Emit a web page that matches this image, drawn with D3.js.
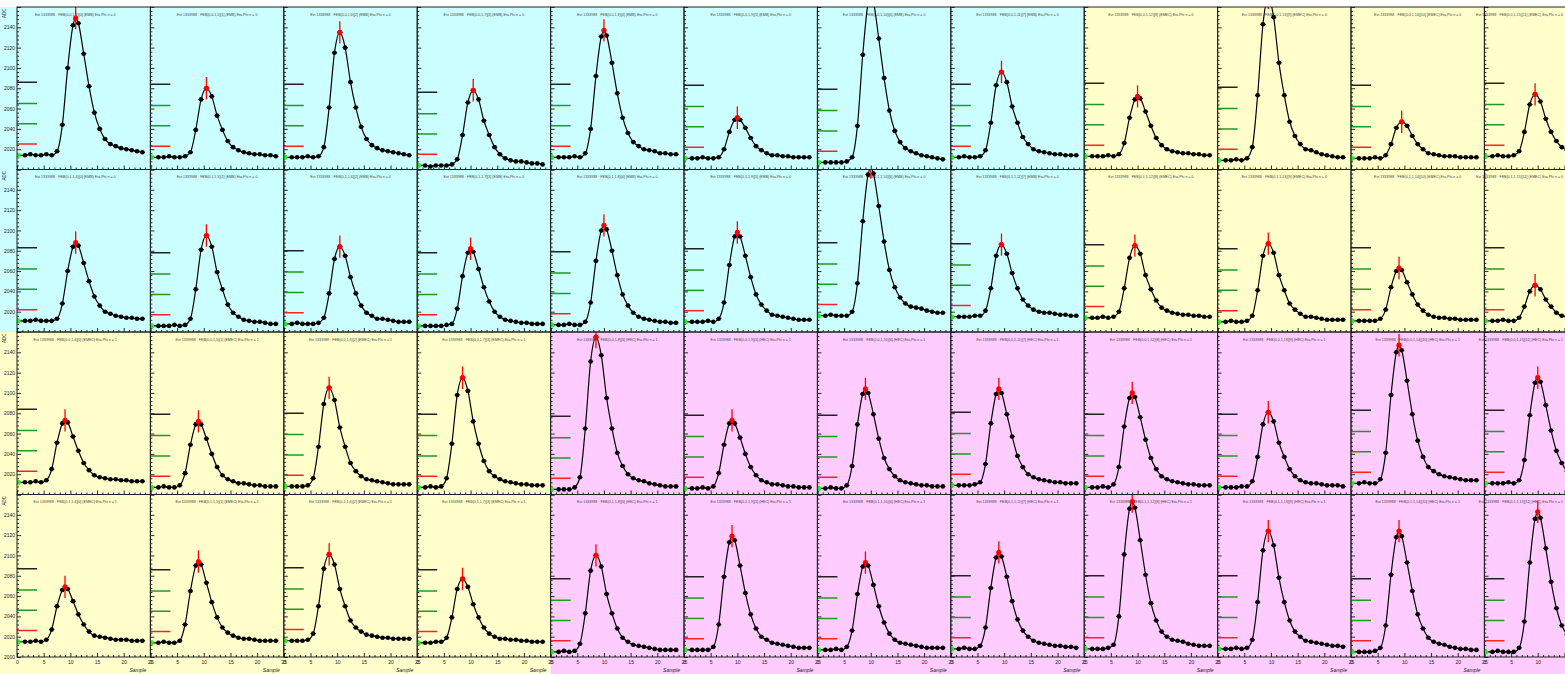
<!DOCTYPE html>
<html>
<head>
<meta charset="utf-8">
<script src="https://cdn.jsdelivr.net/npm/d3@7"></script>
<style>
  body { margin: 0; background: #fff; overflow: hidden; }
  text { font-family: "Liberation Sans", Arial, sans-serif; }
</style>
</head>
<body>
<svg id="canvas" width="1565" height="674"></svg>
<script>
// sample positions (bin centres) for the 23 ADC samples of each pulse
const sampleX = [1.5,2.5,3.5,4.5,5.5,6.5,7.5,8.5,9.5,10.5,11.5,12.5,13.5,14.5,15.5,16.5,17.5,18.5,19.5,20.5,21.5,22.5,23.5];

// pedestal per panel (ADC), row by row
const pedestals = [
  2014,2012,2012,2004,2012,2011,2007,2012,2013,2009,2011,2013,
  2011,2006,2008,2006,2007,2010,2016,2015,2014,2010,2011,2011,
  2012,2007,2008,2007,2005,2006,2006,2009,2007,2007,2011,2011,
  2015,2014,2016,2014,2005,2007,2007,2008,2008,2008,2005,2005
];
// fitted peak amplitude above pedestal
const amplitudes = [
  135,68,123,74,125,40,165,84,59,160,36,61,
  77,89,76,76,98,88,146,71,71,77,52,35,
  61,65,97,108,150,67,98,95,93,74,136,104,
  54,80,85,63,95,112,86,95,145,116,119,138
];
// fitted peak time (samples)
const peakTimes = [
  11,10.5,10.5,10.5,10,10,10,9.5,10,9.5,9.5,9.5,
  11,10.5,10.5,10,10,10,10,9.5,9.5,9.5,9,9.5,
  9,9,8.5,8.5,8.5,9,9,9,9,9.5,9,10,
  9,9,8.5,8.5,8.5,9,9,9,9,9.5,9,10
];
// pulse samples above pedestal
const pulsesRow1 = [
  [0,1,0,0,1,0,4,30,86,128,130,100,68,42,26,16,11,9,7,6,5,4,3],
  [0,0,1,0,0,1,5,27,57,68,60,41,27,16,10,7,5,4,3,3,2,2,1],
  [0,0,0,1,0,1,10,49,103,123,108,74,49,30,18,12,9,7,6,5,4,3,2],
  [0,-1,0,0,0,1,6,30,62,74,65,44,30,18,11,7,5,4,4,3,2,2,1],
  [0,0,0,1,0,4,28,80,119,120,93,63,39,24,15,11,8,7,6,4,4,3,3],
  [0,0,1,0,0,1,9,26,38,38,30,20,12,8,5,3,3,2,2,1,1,1,1],
  [0,0,0,0,1,5,36,106,157,158,122,83,51,31,20,14,11,9,7,6,5,4,3],
  [0,1,0,0,1,7,34,71,84,74,50,34,20,13,8,6,5,4,3,3,2,2,2],
  [0,0,0,1,0,2,13,38,56,57,44,30,18,11,7,5,4,3,3,2,2,1,1],
  [0,0,1,0,2,13,64,134,160,141,96,64,38,24,16,11,10,8,6,5,4,3,3],
  [0,0,0,1,0,3,14,30,36,32,22,14,9,5,4,3,2,2,2,1,1,1,1],
  [0,1,0,0,1,5,24,51,61,54,37,24,15,9,6,4,4,3,2,2,2,1,1]
];
const pulsesRow2 = [
  [0,0,1,0,0,0,2,17,49,73,74,57,39,24,15,9,7,5,4,3,3,2,2],
  [0,0,0,1,0,1,7,36,75,89,78,53,36,21,13,9,6,5,4,4,3,2,2],
  [0,1,0,0,0,1,6,30,64,76,67,46,30,18,11,8,5,5,4,3,2,2,2],
  [0,0,0,0,1,2,17,49,72,73,56,38,24,14,9,6,5,4,3,3,2,2,2],
  [0,0,1,0,0,3,22,63,93,94,73,49,30,19,12,8,6,5,4,3,3,2,2],
  [0,0,0,1,0,3,19,56,84,84,65,44,27,17,11,7,6,5,4,3,2,2,2],
  [0,1,0,0,0,4,32,93,139,140,108,73,45,28,18,12,9,8,7,5,4,3,3],
  [0,0,0,1,1,6,28,60,71,62,43,28,17,11,7,5,4,4,3,2,2,1,1],
  [0,0,1,0,1,6,29,59,71,63,42,28,17,10,7,5,4,3,3,2,2,1,1],
  [0,1,0,0,1,6,31,65,77,68,46,31,18,12,8,5,5,4,3,2,2,2,2],
  [0,0,0,0,2,11,33,49,50,38,26,16,10,6,4,3,3,2,2,1,1,1,1],
  [0,0,1,0,0,3,14,29,35,31,21,14,8,5,4,2,2,2,1,1,1,1,1]
];
const pulsesRow3 = [
  [0,0,1,0,2,13,39,58,59,45,31,19,12,7,5,4,3,3,2,2,1,1,1],
  [0,1,0,0,2,14,42,62,62,48,33,20,12,8,6,4,4,3,2,2,1,1,1],
  [0,0,0,1,8,39,81,97,85,58,39,23,15,10,7,6,5,4,3,2,2,2,2],
  [0,1,0,1,9,43,91,108,95,65,43,26,16,11,8,6,5,4,3,3,2,2,2],
  [0,0,0,2,12,60,126,150,132,90,60,36,23,15,11,9,8,6,5,4,3,3,3],
  [0,0,1,0,2,15,43,64,64,50,34,21,13,8,6,4,4,3,2,2,1,1,1],
  [0,1,0,0,3,22,63,93,94,73,49,30,19,12,8,6,5,4,3,3,2,2,2],
  [0,0,0,1,3,21,61,90,91,70,48,29,18,11,8,6,5,4,3,3,2,2,2],
  [0,0,1,0,3,20,60,88,89,69,47,29,18,11,8,6,5,4,3,3,2,2,2],
  [0,0,0,1,1,6,30,62,74,65,44,30,18,11,7,5,4,4,3,2,2,2,1],
  [0,1,0,0,4,30,87,129,131,101,68,42,26,16,12,9,7,6,5,4,3,3,3],
  [0,0,0,1,0,3,23,67,99,100,77,52,32,20,12,9,7,6,5,4,3,2,2]
];
const pulsesRow4 = [
  [0,0,1,0,2,12,35,51,52,40,27,17,10,6,5,4,3,2,2,2,1,1,1],
  [0,1,0,0,2,18,51,76,77,59,40,25,15,10,7,5,4,4,3,2,2,2,2],
  [0,0,0,1,7,34,71,85,75,51,34,20,13,9,6,5,4,3,3,2,2,2,2],
  [0,0,1,1,5,25,53,63,55,38,25,15,9,6,4,4,3,3,2,2,1,1,1],
  [0,1,0,1,8,38,80,95,84,57,38,23,14,10,7,6,5,4,3,2,2,2,2],
  [0,0,0,0,3,25,72,106,108,83,56,35,21,13,10,7,6,5,4,3,2,2,2],
  [0,0,1,0,3,19,55,82,83,64,43,27,16,10,7,6,5,4,3,2,2,2,2],
  [0,1,0,0,3,21,60,90,91,71,47,29,18,12,8,6,5,4,3,3,2,2,1],
  [0,0,0,1,4,32,93,138,139,107,73,45,28,17,12,9,8,7,5,4,3,3,3],
  [0,0,1,0,1,9,46,97,116,102,70,46,28,17,12,8,7,6,5,4,3,3,2],
  [0,0,0,1,4,26,76,113,114,88,60,37,23,14,10,8,7,5,4,3,3,2,2],
  [0,1,0,0,0,4,30,88,131,132,102,69,43,26,17,12,9,8,6,5,4,3,3]
];
const pulses = pulsesRow1.concat(pulsesRow2, pulsesRow3, pulsesRow4);

// pad colour per panel: c = cyan, y = yellow, m = magenta
const padKinds = [
  "cccccccc" + "yyyy",
  "cccccccc" + "yyyy",
  "yyyy" + "mmmmmmmm",
  "yyyy" + "mmmmmmmm"
].join("").split("");
const padFill = { c: "#ccffff", y: "#ffffcc", m: "#ffccff" };
const layerNames = { c: "EMB", y: "EMEC", m: "HEC" };

// threshold marks above pedestal (ADC) and their colours
const thresholds = [11, 31, 51, 72];
const thresholdColors = ["#ff2222", "#1f9a1f", "#1f9a1f", "#222222"];
const peakError = 11;

const yTickLabels = [2020, 2040, 2060, 2080, 2100, 2120, 2140];
const xTickLabels = [0, 5, 10, 15, 20, 25];

// layout of the divided canvas
const svg = d3.select("#canvas");
const PAGE_W = 1565, PAGE_H = 674;
const X0 = 17, Y0 = 7, W = 133.4, H = 162.5, NC = 12, NR = 4;

const frames = pedestals.map((p, i) => {
  const r = Math.floor(i / NC), c = i % NC;
  const fx = X0 + c * W, fy = Y0 + r * H;
  return {
    i, r, c, fx, fy,
    padX: c === 0 ? 0 : fx,
    padW: c === 0 ? fx + W : W,
    padH: r === NR - 1 ? PAGE_H - fy : H,
    kind: padKinds[i]
  };
});

// pad backgrounds
svg.selectAll("rect.pad").data(frames).enter().append("rect")
  .attr("class", "pad")
  .attr("x", d => d.padX).attr("y", d => d.fy)
  .attr("width", d => d.padW + 0.5).attr("height", d => d.padH + 0.5)
  .attr("fill", d => padFill[d.kind]);

const defs = svg.append("defs");

frames.forEach(d => {
  const x = d3.scaleLinear().domain([0, 25]).range([d.fx, d.fx + W]);
  const y = d3.scaleLinear().domain([2000, 2160]).range([d.fy + H, d.fy]);
  const ped = pedestals[d.i], amp = amplitudes[d.i], tp = peakTimes[d.i];
  const g = svg.append("g");

  defs.append("clipPath").attr("id", "clip" + d.i)
    .append("rect").attr("x", d.fx).attr("y", d.fy).attr("width", W).attr("height", H);

  // title, kept inside the page
  const title = g.append("text")
    .attr("x", d.padX + d.padW / 2).attr("y", d.fy + 8.5)
    .attr("text-anchor", "middle")
    .attr("font-size", 3.6).attr("fill", "#444")
    .text("Evt 1333988 · FEB(0," + d.r % 2 + ",1," + (d.c + 4) + ")[" + d.c + "] (" + layerNames[d.kind] + ") Eta,Phi n = " + (d.r < 2 ? 0 : 1));
  const tw = title.node().getComputedTextLength();
  const cx = d.padX + d.padW / 2;
  if (cx + tw / 2 > PAGE_W - 2) title.attr("x", PAGE_W - 2 - tw / 2);

  // left axis ticks
  const yMinor = d3.range(2000, 2161, 4);
  g.append("g").attr("transform", `translate(${d.fx},0)`)
    .call(d3.axisRight(y).tickValues(yMinor.filter(v => v % 20 !== 0)).tickSize(2).tickFormat(""))
    .call(a => a.select(".domain").remove());
  g.append("g").attr("transform", `translate(${d.fx},0)`)
    .call(d3.axisRight(y).tickValues(d3.range(2000, 2161, 20)).tickSize(4).tickFormat(""))
    .call(a => a.select(".domain").remove());

  // bottom axis ticks
  g.append("g").attr("transform", `translate(0,${d.fy + H})`)
    .call(d3.axisTop(x).tickValues(d3.range(0, 26).filter(v => v % 5 !== 0)).tickSize(2).tickFormat(""))
    .call(a => a.select(".domain").remove());
  g.append("g").attr("transform", `translate(0,${d.fy + H})`)
    .call(d3.axisTop(x).tickValues(xTickLabels).tickSize(4).tickFormat(""))
    .call(a => a.select(".domain").remove());

  g.selectAll(".tick line").attr("stroke", "#111").attr("stroke-width", 0.9);

  // tick labels only where the margin is visible
  if (d.c === 0) {
    const la = g.append("g").attr("transform", `translate(${d.fx},0)`)
      .call(d3.axisLeft(y).tickValues(d.r === NR - 1 ? [2000].concat(yTickLabels) : yTickLabels)
        .tickSize(0).tickPadding(2).tickFormat(d3.format("d")));
    la.select(".domain").remove();
    la.selectAll("text").attr("font-size", 5).attr("fill", "#222")
      .attr("font-family", "Liberation Sans, Arial, sans-serif");
    g.append("text")
      .attr("transform", `translate(5.5,${d.fy + 1.5}) rotate(-90)`)
      .attr("text-anchor", "end").attr("font-size", 4.5).attr("fill", "#222")
      .text("ADC");
  }
  if (d.r === NR - 1 && d.fx + W < PAGE_W) {
    const ba = g.append("g").attr("transform", `translate(0,${d.fy + H})`)
      .call(d3.axisBottom(x).tickValues(xTickLabels).tickSize(0).tickPadding(3).tickFormat(d3.format("d")));
    ba.select(".domain").remove();
    ba.selectAll("text").attr("font-size", 5).attr("fill", "#222")
      .attr("font-family", "Liberation Sans, Arial, sans-serif");
    g.append("text")
      .attr("x", d.fx + W - 4).attr("y", 671.5)
      .attr("text-anchor", "end").attr("font-size", 5).attr("font-style", "italic").attr("fill", "#222")
      .text("Sample");
  } else if (d.r === NR - 1) {
    const ba = g.append("g").attr("transform", `translate(0,${d.fy + H})`)
      .call(d3.axisBottom(x).tickValues(xTickLabels.filter(v => x(v) < PAGE_W - 4)).tickSize(0).tickPadding(3).tickFormat(d3.format("d")));
    ba.select(".domain").remove();
    ba.selectAll("text").attr("font-size", 5).attr("fill", "#222")
      .attr("font-family", "Liberation Sans, Arial, sans-serif");
  }

  const plot = g.append("g").attr("clip-path", `url(#clip${d.i})`);

  // threshold marks
  plot.selectAll("line.thr").data(thresholds).enter().append("line")
    .attr("x1", d.fx).attr("x2", d.fx + 20)
    .attr("y1", t => y(ped + t)).attr("y2", t => y(ped + t))
    .attr("stroke", (t, j) => thresholdColors[j]).attr("stroke-width", 1.5);

  // samples
  const pts = pulses[d.i].map((v, k) => ({ s: sampleX[k], v: ped + v }));
  const curvePts = [{ s: 0.2, v: ped }].concat(pts);
  if (!sampleX.includes(tp)) curvePts.push({ s: tp, v: ped + amp });
  curvePts.sort((a, b) => a.s - b.s);

  plot.append("path")
    .datum(curvePts)
    .attr("fill", "none").attr("stroke", "#000").attr("stroke-width", 1.2)
    .attr("d", d3.line().x(p => x(p.s)).y(p => y(p.v)).curve(d3.curveMonotoneX));

  plot.selectAll("line.ex").data(pts).enter().append("line")
    .attr("x1", p => x(p.s - 0.5)).attr("x2", p => x(p.s + 0.5))
    .attr("y1", p => y(p.v)).attr("y2", p => y(p.v))
    .attr("stroke", "#000").attr("stroke-width", 1);
  plot.selectAll("circle.pt").data(pts).enter().append("circle")
    .attr("cx", p => x(p.s)).attr("cy", p => y(p.v)).attr("r", 2.3)
    .attr("fill", "#000");

  // pedestal marker
  plot.append("circle")
    .attr("cx", x(0.2)).attr("cy", y(ped)).attr("r", 2.6)
    .attr("fill", "#22ee22");

  // fitted peak with error
  plot.append("line")
    .attr("x1", x(tp)).attr("x2", x(tp))
    .attr("y1", y(ped + amp - peakError)).attr("y2", y(ped + amp + peakError))
    .attr("stroke", "#ff0000").attr("stroke-width", 1.3);
  plot.append("line")
    .attr("x1", x(tp - 0.4)).attr("x2", x(tp + 0.4))
    .attr("y1", y(ped + amp)).attr("y2", y(ped + amp))
    .attr("stroke", "#ff0000").attr("stroke-width", 1.3);
  plot.append("circle")
    .attr("cx", x(tp)).attr("cy", y(ped + amp)).attr("r", 2.6)
    .attr("fill", "#ff0000");

  // frame
  g.append("rect")
    .attr("x", d.fx).attr("y", d.fy).attr("width", W).attr("height", H)
    .attr("fill", "none").attr("stroke", "#222").attr("stroke-width", 1);
});
</script>
</body>
</html>
